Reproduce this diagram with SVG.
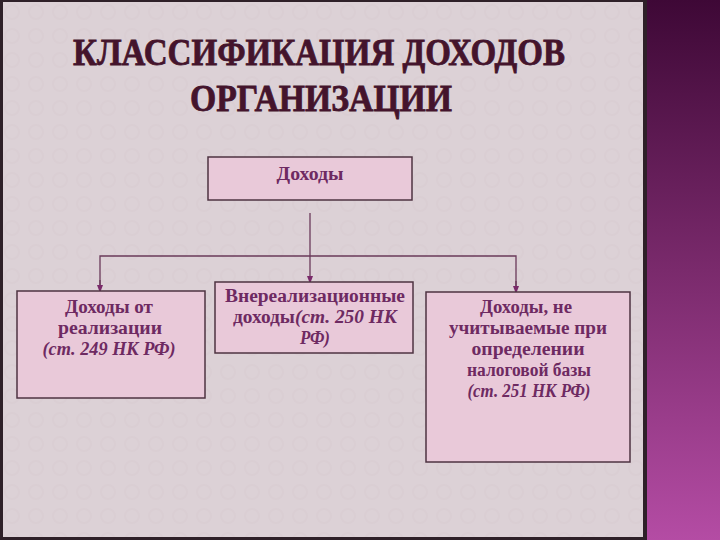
<svg xmlns="http://www.w3.org/2000/svg" width="720" height="540" viewBox="0 0 720 540">
<defs>
<linearGradient id="strip" x1="0" y1="0" x2="0" y2="1">
<stop offset="0" stop-color="#3e0836"/>
<stop offset="0.5" stop-color="#7a2a6c"/>
<stop offset="1" stop-color="#b44ca4"/>
</linearGradient>
<pattern id="dots" width="24" height="24" patternUnits="userSpaceOnUse">
<circle cx="12" cy="12" r="7" fill="none" stroke="#d4c6cd" stroke-width="2"/>
</pattern>
<marker id="arr" markerWidth="8" markerHeight="8" refX="4" refY="4" orient="auto" markerUnits="userSpaceOnUse">
<path d="M0,1 L8,4 L0,7 Z" fill="#7a2a6a"/>
</marker>
<style>
.box{fill:#e9c9d9;stroke:#4e3342;stroke-width:1.5}
.t{font-family:"Liberation Serif","DejaVu Serif",serif;font-weight:bold;font-size:18px;fill:#6e2a62;text-anchor:middle}
.i{font-style:italic}
.title{font-family:"Liberation Serif","DejaVu Serif",serif;font-weight:bold;font-size:38px;fill:#44142c;stroke:#44142c;stroke-width:0.8;text-anchor:middle}
.conn{stroke:#6a3a5a;stroke-width:1.3;fill:none}
</style>
</defs>
<rect x="0" y="0" width="720" height="540" fill="#2e2028"/>
<rect x="3" y="2" width="640" height="535" fill="#dcd1d6"/>
<rect x="3" y="2" width="640" height="535" fill="url(#dots)" opacity="0.3"/>
<rect x="647" y="0" width="73" height="540" fill="url(#strip)"/>
<text class="title" x="319" y="65" textLength="492" lengthAdjust="spacingAndGlyphs">КЛАССИФИКАЦИЯ ДОХОДОВ</text>
<text class="title" x="321" y="111" textLength="262" lengthAdjust="spacingAndGlyphs">ОРГАНИЗАЦИИ</text>
<g id="connectors">
<line class="conn" x1="310" y1="213" x2="310" y2="280" marker-end="url(#arr)"/>
<polyline class="conn" points="100,289 100,256 516,256 516,290"/>
<line class="conn" x1="100" y1="280" x2="100" y2="289" marker-end="url(#arr)"/>
<line class="conn" x1="516" y1="281" x2="516" y2="290" marker-end="url(#arr)"/>
</g>
<g id="node-root">
<rect class="box" x="208" y="157" width="204" height="43"/>
<text class="t" x="310" y="180" textLength="67" lengthAdjust="spacingAndGlyphs">Доходы</text>
</g>
<g id="node-sales">
<rect class="box" x="17" y="291" width="188" height="107"/>
<text class="t" x="109" y="313" textLength="88" lengthAdjust="spacingAndGlyphs">Доходы от</text>
<text class="t" x="110" y="334" textLength="104" lengthAdjust="spacingAndGlyphs">реализации</text>
<text class="t i" x="109" y="355" textLength="133" lengthAdjust="spacingAndGlyphs">(ст. 249 НК РФ)</text>
</g>
<g id="node-nonsales">
<rect class="box" x="215" y="282" width="198" height="71"/>
<text class="t" x="315" y="302" textLength="180" lengthAdjust="spacingAndGlyphs">Внереализационные</text>
<text class="t" x="315" y="323" textLength="164" lengthAdjust="spacingAndGlyphs">доходы<tspan class="i">(ст. 250 НК</tspan></text>
<text class="t i" x="315" y="344" textLength="30" lengthAdjust="spacingAndGlyphs">РФ)</text>
</g>
<g id="node-excluded">
<rect class="box" x="426" y="292" width="204" height="170"/>
<text class="t" x="526" y="313" textLength="92" lengthAdjust="spacingAndGlyphs">Доходы, не</text>
<text class="t" x="528" y="334" textLength="158" lengthAdjust="spacingAndGlyphs">учитываемые при</text>
<text class="t" x="528" y="355" textLength="113" lengthAdjust="spacingAndGlyphs">определении</text>
<text class="t" x="529" y="376" textLength="124" lengthAdjust="spacingAndGlyphs">налоговой базы</text>
<text class="t i" x="529" y="397" textLength="123" lengthAdjust="spacingAndGlyphs">(ст. 251 НК РФ)</text>
</g>
</svg>
